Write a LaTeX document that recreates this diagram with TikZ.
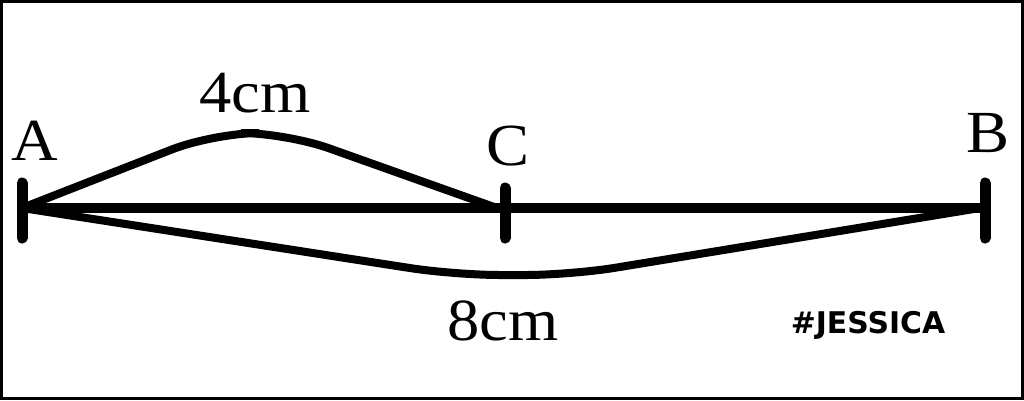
\documentclass[tikz,border=0pt]{standalone}
\usepackage{fontspec}
\setmainfont{Liberation Serif}
\newfontfamily\tagfont{DejaVu Sans}
\usepackage{tikz}

\begin{document}
\begin{tikzpicture}[
      seg/.style={line width=0.1cm},           % main segment
      tick/.style={line width=0.11cm, line cap=round}, % end marks
      arc/.style={line width=0.08cm, rounded corners=0.45cm}, % length arcs
      lbl/.style={font=\fontsize{17}{20}\selectfont, anchor=base, xscale=1.08}
  ]
    \useasboundingbox (0,0) rectangle (10.24,4);
    \draw[line width=0.03cm] (0.015,0.015) rectangle (10.225,3.985);
    % points on the segment
    \coordinate (A) at (0.22,1.92);
    \coordinate (C) at (5.05,1.92);
    \coordinate (B) at (9.85,1.92);
    % corners of the arcs
    \coordinate (top1) at (2.14,2.67);
    \coordinate (top2) at (2.86,2.67);
    \coordinate (bot1) at (4.55,1.25);
    \coordinate (bot2) at (5.71,1.25);
    % main segment and ticks
    \draw[seg] (A) -- (B);
    \draw[tick] ([yshift=0.25cm]A) -- ([yshift=-0.3cm]A);
    \draw[tick] ([yshift=0.2cm]C)  -- ([yshift=-0.3cm]C);
    \draw[tick] ([yshift=0.25cm]B) -- ([yshift=-0.3cm]B);
    % arcs for the lengths
    \draw[arc] (A) -- (top1) -- (top2) -- ([xshift=-0.08cm]C);
    \draw[arc] (A) -- (bot1) -- (bot2) -- ([xshift=-0.05cm]B);
    % labels
    \node[lbl] (labA) at (0.35,2.40) {A};
    \node[lbl] (labC) at (5.08,2.35) {C};
    \node[lbl] (labB) at (9.88,2.48) {B};
    \node[lbl] (len4) at (2.55,2.88) {4cm};
    \node[lbl] (len8) at (5.03,0.60) {8cm};
    \node[anchor=base, font=\tagfont\bfseries\fontsize{8.5}{10}\selectfont] (tag) at (8.68,0.67) {\#JESSICA};
\end{tikzpicture}
\end{document}
